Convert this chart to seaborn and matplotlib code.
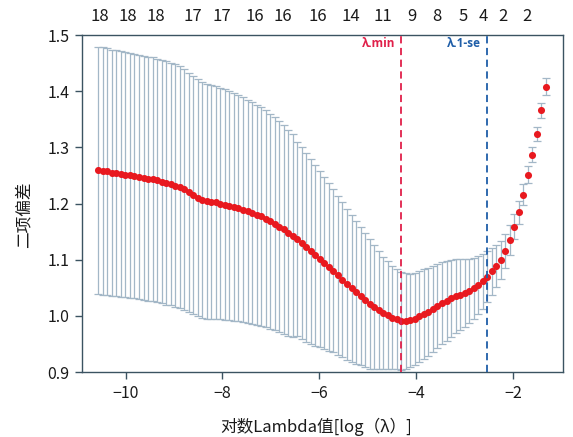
import numpy as np
import pandas as pd
import matplotlib
matplotlib.use("Agg")
import matplotlib.pyplot as plt
import seaborn as sns

# cross-validation curve (binomial deviance)
log_lambda = np.linspace(-10.566, -1.316, 100)

cvm = [
    1.259, 1.258, 1.257, 1.255, 1.254, 1.253, 1.251, 1.250, 1.249, 1.247,
    1.246, 1.244, 1.243, 1.241, 1.239, 1.237, 1.235, 1.232, 1.229, 1.225,
    1.220, 1.215, 1.210, 1.206, 1.204, 1.203, 1.202, 1.200, 1.198, 1.196,
    1.194, 1.192, 1.189, 1.186, 1.183, 1.180, 1.177, 1.173, 1.168, 1.164,
    1.159, 1.154, 1.148, 1.143, 1.137, 1.130, 1.122, 1.115, 1.108, 1.101,
    1.094, 1.087, 1.080, 1.072, 1.064, 1.056, 1.049, 1.042, 1.035, 1.028,
    1.021, 1.016, 1.010, 1.005, 1.001, 0.997, 0.994, 0.991, 0.991, 0.992,
    0.995, 0.999, 1.003, 1.007, 1.012, 1.017, 1.022, 1.027, 1.031, 1.035,
    1.038, 1.041, 1.045, 1.049, 1.055, 1.062, 1.070, 1.079, 1.089, 1.100,
    1.116, 1.135, 1.159, 1.184, 1.216, 1.251, 1.287, 1.324, 1.366, 1.408,
]

cvsd = [
    0.220, 0.220, 0.220, 0.219, 0.219, 0.219, 0.218, 0.218, 0.218, 0.217,
    0.217, 0.217, 0.217, 0.217, 0.217, 0.217, 0.216, 0.216, 0.215, 0.214,
    0.213, 0.212, 0.211, 0.210, 0.209, 0.208, 0.207, 0.206, 0.205, 0.204,
    0.203, 0.202, 0.200, 0.199, 0.197, 0.196, 0.195, 0.193, 0.192, 0.190,
    0.188, 0.186, 0.183, 0.180, 0.173, 0.171, 0.168, 0.165, 0.161, 0.157,
    0.153, 0.149, 0.145, 0.141, 0.138, 0.135, 0.131, 0.127, 0.123, 0.119,
    0.115, 0.110, 0.105, 0.100, 0.096, 0.092, 0.089, 0.087, 0.085, 0.083,
    0.082, 0.081, 0.080, 0.079, 0.077, 0.075, 0.073, 0.071, 0.068, 0.066,
    0.063, 0.060, 0.057, 0.054, 0.051, 0.049, 0.046, 0.041, 0.037, 0.034,
    0.030, 0.027, 0.023, 0.020, 0.018, 0.015, 0.013, 0.013, 0.013, 0.015,
]

idx_min = 67
idx_1se = 86

# number of non-zero coefficients shown along the top
top_pos = [-10.531, -9.952, -9.374, -8.610, -8.010, -7.329, -6.750, -6.027,
           -5.345, -4.684, -4.085, -3.568, -3.031, -2.618, -2.205, -1.709]
top_labels = ["18", "18", "18", "17", "17", "16", "16", "16",
              "14", "11", "9", "8", "5", "4", "2", "2"]

df = pd.DataFrame({"log_lambda": log_lambda, "cvm": cvm, "cvsd": cvsd})

sns.set_theme(style="ticks")
plt.rcParams["font.family"] = ["Noto Sans CJK SC", "DejaVu Sans"]

spine_col = "#3b5361"
fig = plt.figure(figsize=(5.73, 4.37), dpi=100)
ax = fig.add_axes([0.1431, 0.1487, 0.8394, 0.7712])

_, caps, bars = ax.errorbar(df["log_lambda"], df["cvm"], yerr=df["cvsd"], fmt="none",
                            ecolor="#a3b7c7", elinewidth=0.9, capsize=3.2, capthick=0.9,
                            zorder=2)
for c in caps:
    c.set_color("#7a90a1")

sns.scatterplot(data=df, x="log_lambda", y="cvm", ax=ax, color="#e8191f",
                s=26, linewidth=0, zorder=3, legend=False)

ax.axvline(log_lambda[idx_min], color="#e0204a", lw=1.3, ls=(0, (4, 2.5)), zorder=4)
ax.axvline(log_lambda[idx_1se], color="#1f5ea8", lw=1.3, ls=(0, (4, 2.5)), zorder=4)

ax.annotate("λ.min", xy=(log_lambda[idx_min], 1), xycoords=("data", "axes fraction"),
            xytext=(-4.5, -6), textcoords="offset points", ha="right", va="center",
            color="#e0204a", fontsize=8.5, fontweight="bold",
            family=["Open Sans", "DejaVu Sans"])
ax.annotate("λ.1-se", xy=(log_lambda[idx_1se], 1), xycoords=("data", "axes fraction"),
            xytext=(-4.5, -6), textcoords="offset points", ha="right", va="center",
            color="#1f5ea8", fontsize=8.5, fontweight="bold",
            family=["Open Sans", "DejaVu Sans"])

ax.set_xlim(-10.903, -0.965)
ax.set_ylim(0.9, 1.5)
ax.set_xticks([-10, -8, -6, -4, -2])
ax.set_yticks([0.9, 1.0, 1.1, 1.2, 1.3, 1.4, 1.5])
ax.set_yticklabels([f"{v:.1f}" for v in [0.9, 1.0, 1.1, 1.2, 1.3, 1.4, 1.5]])

for side in ["left", "bottom", "top", "right"]:
    ax.spines[side].set_visible(True)
    ax.spines[side].set_color(spine_col)
    ax.spines[side].set_linewidth(1.0)
ax.tick_params(axis="both", direction="out", length=5, width=1.0, color=spine_col,
               labelsize=11.5, labelcolor="#1a1a1a", pad=4)

top = ax.secondary_xaxis("top")
top.set_xticks(top_pos, labels=top_labels)
top.tick_params(length=0, labelsize=12, labelcolor="#1a1a1a", pad=7)
top.spines["top"].set_visible(False)

ax.set_xlabel("对数Lambda值[log（λ）]", fontsize=12, color="#1a1a1a")
ax.set_ylabel("二项偏差", fontsize=12, color="#1a1a1a")
ax.xaxis.set_label_coords(0.4865, -0.1365)
ax.yaxis.set_label_coords(-0.102, 0.466)

fig.savefig("out.png", dpi=100)
